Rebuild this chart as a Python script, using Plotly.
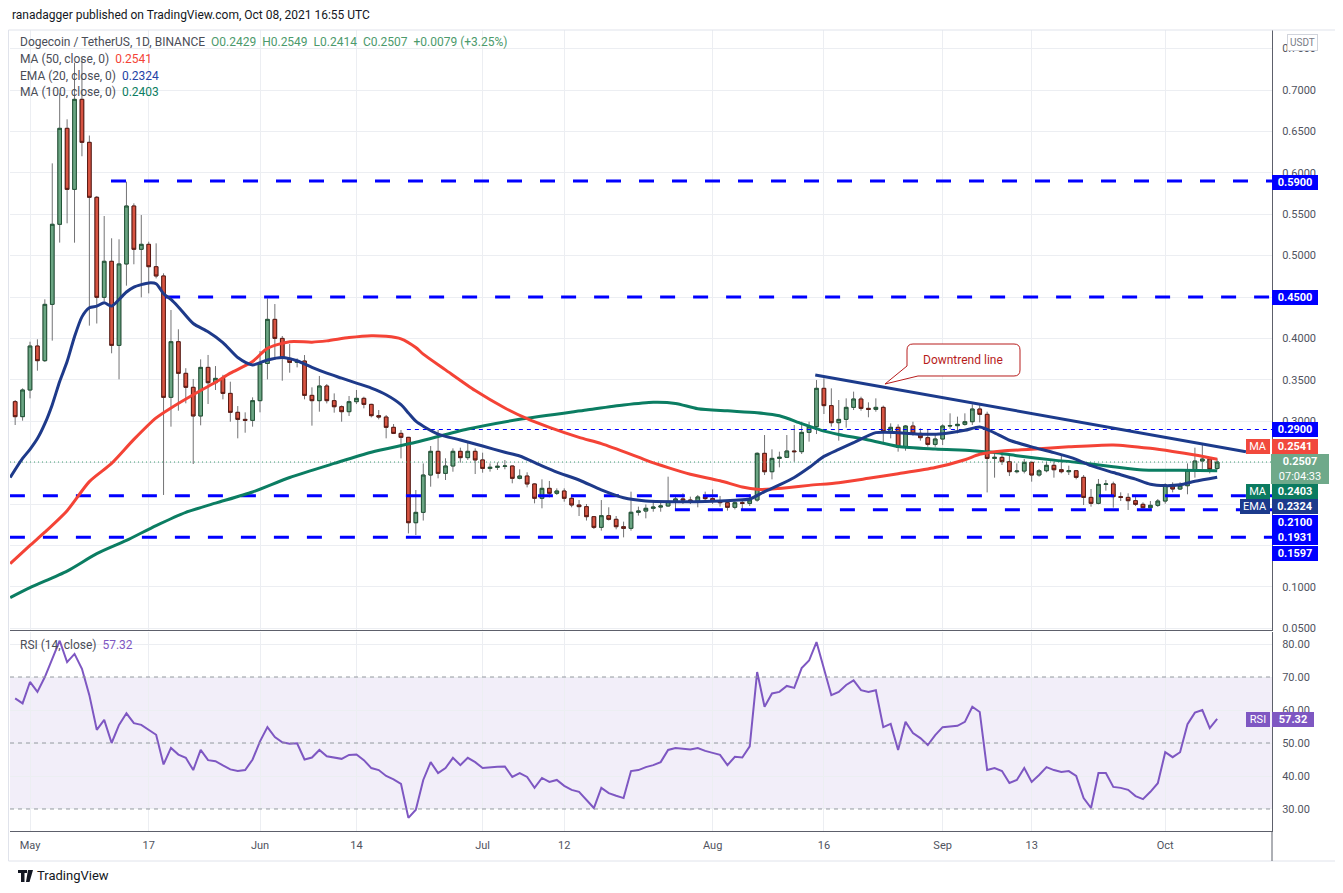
import pandas as pd
import plotly.graph_objects as go

# DOGE/USDT daily candles, 29 Apr - 8 Oct 2021
dates = pd.date_range("2021-04-29", "2021-10-08", freq="D")

opens = [
    0.3236, 0.3055,
    # May
    0.3377, 0.3908, 0.3731, 0.4411, 0.5378, 0.6537, 0.5800, 0.6887, 0.6368, 0.5704,
    0.4496, 0.4931, 0.3916, 0.4899, 0.5599, 0.5076, 0.5136, 0.4866, 0.4754, 0.3288,
    0.3960, 0.3578, 0.3409, 0.3063, 0.3650, 0.3465, 0.3517, 0.3336, 0.3107, 0.3022, 0.3010,
    # Jun
    0.3248, 0.3698, 0.4230, 0.4000, 0.3759, 0.3710, 0.3727, 0.3312, 0.3248, 0.3425,
    0.3248, 0.3175, 0.3115, 0.3236, 0.3276, 0.3203, 0.3067, 0.3050, 0.2926, 0.2853,
    0.2805, 0.1774, 0.1899, 0.2350, 0.2636, 0.2370, 0.2459, 0.2636, 0.2560, 0.2636,
    # Jul
    0.2532, 0.2430, 0.2443, 0.2455, 0.2459, 0.2310, 0.2338, 0.2242, 0.2069, 0.2189,
    0.2129, 0.2157, 0.2069, 0.1988, 0.1968, 0.1847, 0.1718, 0.1859, 0.1815, 0.1726,
    0.1706, 0.1900, 0.1915, 0.1948, 0.1963, 0.1976, 0.2032, 0.2061, 0.2048, 0.2036, 0.2085,
    # Aug
    0.2065, 0.2036, 0.2016, 0.1960, 0.2016, 0.2008, 0.2048, 0.2612, 0.2390, 0.2551,
    0.2564, 0.2640, 0.2632, 0.2865, 0.2934, 0.3397, 0.3188, 0.2982, 0.3022, 0.3167,
    0.3268, 0.3155, 0.3143, 0.3167, 0.2874, 0.2926, 0.2684, 0.2942, 0.2853, 0.2801, 0.2720,
    # Sep
    0.2785, 0.2942, 0.2946, 0.2962, 0.2994, 0.3147, 0.3083, 0.2551, 0.2563, 0.2511,
    0.2390, 0.2398, 0.2503, 0.2350, 0.2402, 0.2467, 0.2414, 0.2390, 0.2402, 0.2322,
    0.2080, 0.2008, 0.2237, 0.2242, 0.2089, 0.2080, 0.2040, 0.1996, 0.1955, 0.1984,
    # Oct
    0.2036, 0.2229, 0.2181, 0.2221, 0.2406, 0.2519, 0.2543, 0.2429,
]
highs = [
    0.3256, 0.3397,
    0.3960, 0.3989, 0.4472, 0.6114, 0.6960, 0.6646, 0.7330, 0.7376, 0.6450, 0.5720,
    0.5478, 0.5209, 0.5197, 0.5893, 0.5631, 0.5490, 0.5168, 0.5148, 0.4786, 0.4343,
    0.4110, 0.3640, 0.3510, 0.3747, 0.3800, 0.3666, 0.3560, 0.3477, 0.3183, 0.3107, 0.3288,
    0.3848, 0.4484, 0.4415, 0.4029, 0.3932, 0.3759, 0.3799, 0.3409, 0.3546, 0.3449,
    0.3336, 0.3190, 0.3304, 0.3377, 0.3296, 0.3210, 0.3135, 0.3075, 0.2966, 0.2894,
    0.2810, 0.2169, 0.2490, 0.2700, 0.2894, 0.2552, 0.2672, 0.2680, 0.2753, 0.2672,
    0.2620, 0.2491, 0.2503, 0.2531, 0.2463, 0.2419, 0.2383, 0.2250, 0.2298, 0.2278,
    0.2189, 0.2189, 0.2097, 0.2048, 0.2000, 0.1855, 0.2048, 0.1960, 0.1855, 0.1787,
    0.2149, 0.1968, 0.1996, 0.2040, 0.2016, 0.2330, 0.2100, 0.2129, 0.2089, 0.2109, 0.2149,
    0.2177, 0.2097, 0.2048, 0.2048, 0.2056, 0.2120, 0.2624, 0.2833, 0.2660, 0.2632,
    0.2833, 0.2954, 0.2994, 0.2994, 0.3497, 0.3518, 0.3397, 0.3256, 0.3276, 0.3357,
    0.3296, 0.3228, 0.3276, 0.3188, 0.2974, 0.2962, 0.2954, 0.2994, 0.2914, 0.2906, 0.2845,
    0.2962, 0.3095, 0.3055, 0.3095, 0.3204, 0.3204, 0.3115, 0.2640, 0.2624, 0.2600,
    0.2491, 0.2543, 0.2511, 0.2423, 0.2511, 0.2511, 0.2592, 0.2463, 0.2410, 0.2350,
    0.2181, 0.2302, 0.2290, 0.2270, 0.2141, 0.2129, 0.2097, 0.2020, 0.2036, 0.2060,
    0.2250, 0.2262, 0.2262, 0.2491, 0.2680, 0.2721, 0.2560, 0.2549,
]
lows = [
    0.2954, 0.3006,
    0.3276, 0.3610, 0.3715, 0.3973, 0.5157, 0.5390, 0.5156, 0.6200, 0.4154, 0.4180,
    0.4450, 0.3820, 0.3506, 0.4637, 0.4895, 0.4496, 0.4544, 0.4725, 0.2109, 0.2934,
    0.3127, 0.3216, 0.2483, 0.2950, 0.3208, 0.3377, 0.3264, 0.2994, 0.2793, 0.2861, 0.2934,
    0.3107, 0.3505, 0.3739, 0.3489, 0.3586, 0.3650, 0.3264, 0.2946, 0.3115, 0.3215,
    0.3103, 0.2994, 0.3063, 0.3207, 0.3155, 0.3046, 0.3022, 0.2793, 0.2845, 0.2551,
    0.1645, 0.1625, 0.1800, 0.2209, 0.2310, 0.2290, 0.2390, 0.2499, 0.2532, 0.2362,
    0.2378, 0.2391, 0.2411, 0.2419, 0.2250, 0.2298, 0.2201, 0.2008, 0.1948, 0.2080,
    0.2109, 0.2028, 0.1960, 0.1855, 0.1800, 0.1698, 0.1678, 0.1800, 0.1694, 0.1597,
    0.1678, 0.1860, 0.1827, 0.1907, 0.1907, 0.1968, 0.1935, 0.2000, 0.2000, 0.1960, 0.2016,
    0.2000, 0.1968, 0.1920, 0.1935, 0.1927, 0.1976, 0.2028, 0.2350, 0.2298, 0.2443,
    0.2559, 0.2511, 0.2604, 0.2753, 0.2845, 0.3087, 0.2934, 0.2765, 0.2922, 0.3135,
    0.3127, 0.3047, 0.3115, 0.2733, 0.2793, 0.2632, 0.2644, 0.2825, 0.2765, 0.2692, 0.2692,
    0.2712, 0.2906, 0.2853, 0.2946, 0.2954, 0.2986, 0.2140, 0.2318, 0.2471, 0.2338,
    0.2370, 0.2370, 0.2270, 0.2330, 0.2383, 0.2318, 0.2370, 0.2350, 0.2298, 0.1988,
    0.1968, 0.1996, 0.2161, 0.1956, 0.2036, 0.1928, 0.1976, 0.1948, 0.1948, 0.1964,
    0.2004, 0.2141, 0.2169, 0.2117, 0.2318, 0.2423, 0.2370, 0.2414,
]
closes = [
    0.3055, 0.3377,
    0.3908, 0.3731, 0.4411, 0.5378, 0.6537, 0.5800, 0.6887, 0.6368, 0.5704, 0.4496,
    0.4931, 0.3916, 0.4899, 0.5599, 0.5076, 0.5136, 0.4866, 0.4754, 0.3288, 0.3960,
    0.3578, 0.3409, 0.3063, 0.3650, 0.3465, 0.3517, 0.3336, 0.3107, 0.3022, 0.3010, 0.3248,
    0.3698, 0.4230, 0.4000, 0.3759, 0.3710, 0.3727, 0.3312, 0.3248, 0.3425, 0.3248,
    0.3175, 0.3115, 0.3236, 0.3276, 0.3203, 0.3067, 0.3050, 0.2926, 0.2853, 0.2805,
    0.1774, 0.1899, 0.2350, 0.2636, 0.2370, 0.2459, 0.2636, 0.2560, 0.2636, 0.2532,
    0.2430, 0.2443, 0.2455, 0.2459, 0.2310, 0.2338, 0.2242, 0.2069, 0.2189, 0.2129,
    0.2157, 0.2069, 0.1988, 0.1968, 0.1847, 0.1718, 0.1859, 0.1815, 0.1726, 0.1706,
    0.1900, 0.1915, 0.1948, 0.1963, 0.1976, 0.2032, 0.2061, 0.2048, 0.2036, 0.2085, 0.2065,
    0.2036, 0.2016, 0.1960, 0.2016, 0.2008, 0.2048, 0.2612, 0.2390, 0.2551, 0.2564,
    0.2640, 0.2632, 0.2865, 0.2934, 0.3397, 0.3188, 0.2982, 0.3022, 0.3167, 0.3268,
    0.3155, 0.3143, 0.3167, 0.2874, 0.2926, 0.2684, 0.2942, 0.2853, 0.2801, 0.2720, 0.2785,
    0.2942, 0.2946, 0.2962, 0.2994, 0.3147, 0.3083, 0.2551, 0.2563, 0.2511, 0.2390,
    0.2398, 0.2503, 0.2350, 0.2402, 0.2467, 0.2414, 0.2390, 0.2402, 0.2322, 0.2080,
    0.2008, 0.2237, 0.2242, 0.2089, 0.2080, 0.2040, 0.1996, 0.1955, 0.1984, 0.2036,
    0.2229, 0.2181, 0.2221, 0.2406, 0.2519, 0.2543, 0.2418, 0.2507,
]

rsi_vals = [
    63.5, 62.0,
    68.5, 65.5, 70.0, 75.5, 81.0, 74.5, 77.0, 72.5, 64.5, 54.0,
    57.0, 50.0, 55.5, 59.0, 56.0, 55.5, 54.0, 52.5, 43.5, 48.5,
    46.5, 45.5, 41.8, 47.9, 44.8, 44.5, 43.2, 42.0, 41.5, 41.8, 45.0,
    50.5, 54.8, 51.8, 50.2, 49.8, 49.9, 45.0, 45.6, 47.9, 46.0,
    45.5, 45.2, 46.4, 46.5, 44.8, 42.4, 41.8, 40.0, 39.0, 37.6,
    27.3, 29.8, 38.8, 44.2, 40.9, 42.4, 45.5, 43.3, 45.5, 44.2,
    42.4, 42.7, 42.8, 42.9, 39.7, 40.9, 39.7, 36.4, 39.4, 38.2,
    38.8, 37.0, 35.8, 35.2, 32.7, 30.3, 36.4, 34.8, 34.0, 33.3,
    41.5, 41.8, 42.7, 43.3, 44.2, 47.9, 48.5, 48.2, 48.0, 48.5, 47.6,
    47.0, 46.4, 43.3, 45.8, 45.6, 49.0, 71.5, 61.0, 65.0, 65.5,
    67.3, 66.7, 72.7, 75.0, 80.6, 72.7, 64.5, 65.5, 67.6, 69.0,
    66.0, 65.5, 66.0, 54.8, 55.8, 47.9, 56.4, 53.0, 51.5, 49.4, 52.4,
    54.8, 54.9, 55.2, 56.4, 61.0, 59.4, 41.8, 42.4, 41.5, 37.9,
    38.8, 42.4, 38.2, 40.3, 42.7, 41.8, 41.2, 41.5, 40.0, 33.3,
    30.3, 40.9, 40.9, 36.7, 36.4, 35.8, 33.9, 33.0, 35.2, 37.8,
    47.2, 45.7, 47.2, 55.7, 59.2, 60.0, 54.5, 57.32,
]

# moving averages, sampled off the chart
ema20_dates = [
    "2021-04-28 08:00", "2021-04-30", "2021-05-01", "2021-05-02", "2021-05-03", "2021-05-04",
    "2021-05-05", "2021-05-06", "2021-05-07", "2021-05-08", "2021-05-09", "2021-05-10",
    "2021-05-11", "2021-05-12", "2021-05-13", "2021-05-14", "2021-05-15", "2021-05-16",
    "2021-05-17", "2021-05-18", "2021-05-19", "2021-05-20", "2021-05-21", "2021-05-23",
    "2021-05-25", "2021-05-27", "2021-05-29", "2021-05-31", "2021-06-02", "2021-06-04",
    "2021-06-06", "2021-06-08", "2021-06-10", "2021-06-12", "2021-06-14", "2021-06-16",
    "2021-06-18", "2021-06-20", "2021-06-21", "2021-06-22", "2021-06-23", "2021-06-25",
    "2021-06-28", "2021-07-01", "2021-07-04", "2021-07-06", "2021-07-09", "2021-07-11",
    "2021-07-14", "2021-07-17", "2021-07-20", "2021-07-23", "2021-07-27", "2021-07-31",
    "2021-08-04", "2021-08-06", "2021-08-08", "2021-08-10", "2021-08-12", "2021-08-14",
    "2021-08-16", "2021-08-18", "2021-08-20", "2021-08-23", "2021-08-26", "2021-08-29",
    "2021-09-01", "2021-09-04", "2021-09-06", "2021-09-08", "2021-09-10", "2021-09-13",
    "2021-09-16", "2021-09-19", "2021-09-21", "2021-09-24", "2021-09-27", "2021-09-29",
    "2021-10-01", "2021-10-03", "2021-10-05", "2021-10-08",
]
ema20_vals = [
    0.232, 0.255, 0.266, 0.279, 0.297, 0.320,
    0.348, 0.372, 0.402, 0.426, 0.437, 0.439,
    0.443, 0.439, 0.447, 0.456, 0.462, 0.465,
    0.467, 0.466, 0.454, 0.447, 0.438, 0.418,
    0.408, 0.395, 0.377, 0.368, 0.374, 0.377,
    0.373, 0.365, 0.358, 0.352, 0.346, 0.340,
    0.332, 0.320, 0.310, 0.300, 0.294, 0.2845,
    0.2773, 0.270, 0.2625, 0.258, 0.246, 0.2385,
    0.229, 0.217, 0.2075, 0.2036, 0.2028, 0.2030,
    0.2045, 0.2060, 0.2150, 0.2230, 0.2320, 0.2440,
    0.2575, 0.2660, 0.2740, 0.2862, 0.2862, 0.2843,
    0.2848, 0.2890, 0.2930, 0.2860, 0.2770, 0.2690,
    0.2620, 0.2540, 0.2463, 0.2380, 0.2300, 0.2238,
    0.2222, 0.2232, 0.2275, 0.2324,
]

ma50_dates = [
    "2021-04-28 08:00", "2021-05-01", "2021-05-03", "2021-05-06", "2021-05-09", "2021-05-12",
    "2021-05-15", "2021-05-18", "2021-05-20", "2021-05-23", "2021-05-26", "2021-05-28",
    "2021-05-31", "2021-06-02", "2021-06-05", "2021-06-08", "2021-06-10", "2021-06-13",
    "2021-06-16", "2021-06-18", "2021-06-20", "2021-06-22", "2021-06-23", "2021-06-26",
    "2021-06-30", "2021-07-04", "2021-07-07", "2021-07-10", "2021-07-14", "2021-07-17",
    "2021-07-21", "2021-07-23", "2021-07-26", "2021-07-29", "2021-08-02", "2021-08-05",
    "2021-08-07", "2021-08-09", "2021-08-11", "2021-08-14", "2021-08-18", "2021-08-22",
    "2021-08-26", "2021-08-31", "2021-09-04", "2021-09-06", "2021-09-09", "2021-09-13",
    "2021-09-18", "2021-09-24", "2021-09-29", "2021-10-02", "2021-10-05", "2021-10-08",
]
ma50_vals = [
    0.128, 0.150, 0.166, 0.192, 0.227, 0.249,
    0.278, 0.304, 0.316, 0.332, 0.347, 0.358,
    0.372, 0.388, 0.396, 0.3955, 0.397, 0.401,
    0.4033, 0.4025, 0.3995, 0.389, 0.381, 0.362,
    0.337, 0.316, 0.303, 0.2925, 0.2805, 0.273,
    0.2600, 0.2530, 0.2440, 0.2360, 0.2280, 0.2205,
    0.2177, 0.2180, 0.2195, 0.2225, 0.2258, 0.2310,
    0.2365, 0.2440, 0.2535, 0.2600, 0.2640, 0.2660,
    0.2690, 0.2713, 0.2672, 0.2635, 0.2592, 0.2541,
]

ma100_dates = [
    "2021-04-28 08:00", "2021-05-01", "2021-05-06", "2021-05-10", "2021-05-14", "2021-05-18",
    "2021-05-22", "2021-05-26", "2021-05-31", "2021-06-05", "2021-06-11", "2021-06-16",
    "2021-06-22", "2021-06-29", "2021-07-06", "2021-07-15", "2021-07-20", "2021-07-24",
    "2021-07-27", "2021-07-30", "2021-08-03", "2021-08-07", "2021-08-10", "2021-08-13",
    "2021-08-16", "2021-08-18", "2021-08-22", "2021-08-26", "2021-08-31", "2021-09-05",
    "2021-09-08", "2021-09-11", "2021-09-16", "2021-09-19", "2021-09-24", "2021-09-28",
    "2021-10-03", "2021-10-08",
]
ma100_vals = [
    0.087, 0.099, 0.119, 0.140, 0.156, 0.174,
    0.190, 0.201, 0.2145, 0.232, 0.249, 0.2625,
    0.2745, 0.2905, 0.3023, 0.3135, 0.3195, 0.3228,
    0.3215, 0.3150, 0.3125, 0.3103, 0.3065, 0.2970,
    0.2880, 0.2840, 0.2773, 0.2695, 0.2664, 0.2644,
    0.2622, 0.2584, 0.2530, 0.2505, 0.2450, 0.2410,
    0.2408, 0.2403,
]

# horizontal levels and the drawn downtrend line
level_vals = [0.59, 0.45, 0.29, 0.21, 0.1931, 0.1597]
level_starts = ["2021-05-11 22:00", "2021-05-19 05:00", "2021-06-20 19:00",
                "2021-04-28 07:00", "2021-07-26 22:00", "2021-04-28 07:00"]
trend_x = ["2021-08-14 20:00", "2021-10-11 21:00"]
trend_y = [0.3558, 0.2632]

tick_dates = ["2021-05-01", "2021-05-17", "2021-06-01", "2021-06-14", "2021-07-01", "2021-07-12",
              "2021-08-01", "2021-08-16", "2021-09-01", "2021-09-13", "2021-10-01"]
tick_text = ["May", "17", "Jun", "14", "Jul", "12", "Aug", "16", "Sep", "13", "Oct"]

price_ticks = [round(0.05 * i, 2) for i in range(1, 16)]
# labels the price scale hides behind its tags
hidden_ticks = [0.15, 0.2, 0.25, 0.45]

X0, X1 = "2021-04-28 07:19", "2021-10-15 09:22"

# page pixel helpers (plot area spans x 10..1272, y 30..831 of the page;
# the page body adds an 8px margin around the figure)
L, R, T, B = 10, 1272, 30, 831
PAGE = 8
FIG_W, FIG_H = 1343 - PAGE, 893 - PAGE


def px(x):
    return (x - L) / (R - L)


def py(y):
    return (B - y) / (B - T)


UP, DOWN = "#6ba583", "#d75442"
UP_EDGE, DOWN_EDGE = "#225437", "#5b1a13"
WICK = "#737375"
RED, BLUE, GREEN = "#f44336", "#1e3a8a", "#0b7d62"
PURPLE = "#7e57c2"
GRID = "#eceef2"
AXIS = "#5d606b"
FONT = "Roboto"

fig = go.Figure()

# levels
for v, s in zip(level_vals, level_starts):
    thin = v == 0.29
    fig.add_trace(go.Scatter(
        x=[s, X1], y=[v, v], mode="lines",
        line=dict(color="#0000ff", width=1.2 if thin else 3,
                  dash="4px,4px" if thin else "15px,18px"),
        hoverinfo="skip", showlegend=False))

# last price dotted line
fig.add_trace(go.Scatter(
    x=[X0, X1], y=[closes[-1], closes[-1]], mode="lines",
    line=dict(color="#3f9b6e", width=1, dash="1px,3px"),
    hoverinfo="skip", showlegend=False))

# wicks then bodies
fig.add_trace(go.Candlestick(
    x=dates, open=opens, high=highs, low=lows, close=closes,
    increasing=dict(line=dict(color=WICK, width=1), fillcolor=WICK),
    decreasing=dict(line=dict(color=WICK, width=1), fillcolor=WICK),
    whiskerwidth=0, hoverinfo="skip", showlegend=False))
body_hi = [max(o, c) for o, c in zip(opens, closes)]
body_lo = [min(o, c) for o, c in zip(opens, closes)]
fig.add_trace(go.Candlestick(
    x=dates, open=opens, high=body_hi, low=body_lo, close=closes,
    increasing=dict(line=dict(color=UP_EDGE, width=1), fillcolor=UP),
    decreasing=dict(line=dict(color=DOWN_EDGE, width=1), fillcolor=DOWN),
    whiskerwidth=0, hoverinfo="skip", showlegend=False))

for xs, ys, col in [(ma100_dates, ma100_vals, GREEN),
                    (ma50_dates, ma50_vals, RED),
                    (ema20_dates, ema20_vals, BLUE)]:
    fig.add_trace(go.Scatter(
        x=xs, y=ys, mode="lines", line=dict(color=col, width=3, shape="spline", smoothing=0.7),
        hoverinfo="skip", showlegend=False))

fig.add_trace(go.Scatter(
    x=trend_x, y=trend_y, mode="lines", line=dict(color="#1c3b8c", width=3),
    hoverinfo="skip", showlegend=False))

# RSI pane
fig.add_trace(go.Scatter(
    x=dates, y=rsi_vals, mode="lines", line=dict(color=PURPLE, width=2),
    xaxis="x2", yaxis="y2", hoverinfo="skip", showlegend=False))

shapes = [
    dict(type="rect", xref="paper", yref="y2", x0=0, x1=1, y0=30, y1=70,
         fillcolor="rgba(126,87,194,0.1)", line=dict(width=0), layer="below"),
]
for lv in [70, 50, 30]:
    shapes.append(dict(type="line", xref="paper", yref="y2", x0=0, x1=1, y0=lv, y1=lv,
                       line=dict(color="#9598a1", width=1, dash="4px,4px")))

# outer frame and axis stub under the time scale
shapes.append(dict(type="rect", xref="paper", yref="paper",
                   x0=px(8.5), x1=px(1336.5), y0=py(861), y1=py(30),
                   line=dict(color="#e0e3eb", width=1)))
shapes.append(dict(type="line", xref="paper", yref="paper",
                   x0=px(1272), x1=px(1272), y0=py(831), y1=py(861),
                   line=dict(color=AXIS, width=1)))

# downtrend callout
pts = [("M", 913, 344), ("L", 1014, 344), ("Q", 1020, 344, 1020, 350), ("L", 1020, 370),
       ("Q", 1020, 376, 1014, 376), ("L", 918, 376), ("L", 885, 384), ("L", 907, 366),
       ("L", 907, 350), ("Q", 907, 344, 913, 344)]
path = ""
for p in pts:
    cmd, coords = p[0], p[1:]
    xy = []
    for i in range(0, len(coords), 2):
        xy.append(f"{px(coords[i]):.5f},{py(coords[i + 1]):.5f}")
    path += cmd + " ".join(xy) + " "
shapes.append(dict(type="path", xref="paper", yref="paper", path=path + "Z",
                   fillcolor="white", line=dict(color="#b71c1c", width=1)))

# small TradingView logo glyph
shapes.append(dict(type="path", xref="paper", yref="paper",
                   path=f"M{px(18)},{py(870)} L{px(27)},{py(870)} L{px(27)},{py(873)} L{px(24.5)},{py(873)} "
                        f"L{px(24.5)},{py(882)} L{px(21)},{py(882)} L{px(21)},{py(873)} L{px(18)},{py(873)} Z",
                   fillcolor="#131722", line=dict(width=0)))
shapes.append(dict(type="path", xref="paper", yref="paper",
                   path=f"M{px(28)},{py(870)} L{px(33)},{py(870)} L{px(29.5)},{py(882)} L{px(26)},{py(882)} Z",
                   fillcolor="#131722", line=dict(width=0)))

ann = []


def note(text, x, y, size=12, color="#131722", xanchor="left", **kw):
    ann.append(dict(text=text, x=px(x), y=py(y), xref="paper", yref="paper",
                    xanchor=xanchor, yanchor="middle", showarrow=False,
                    font=dict(family=FONT, size=size, color=color), **kw))


def tag(text, y, bg, x=1272, width=42, height=11, xanchor="left", bold=True):
    t = f"<b>{text}</b>" if bold else text
    ann.append(dict(text=t, x=px(x), y=py(y), xref="paper", yref="paper",
                    xanchor=xanchor, yanchor="middle", showarrow=False,
                    width=width, height=height, align="center", valign="middle",
                    bgcolor=bg, borderpad=2, borderwidth=0,
                    font=dict(family=FONT, size=11, color="white")))


note("ranadagger published on TradingView.com, Oct 08, 2021 16:55 UTC", 10, 15, size=12)

val = "#4c9a6c"
head = (f"Dogecoin / TetherUS, 1D, BINANCE&nbsp;&nbsp;"
        f"<span style='color:{val}'>O{opens[-1]:.4f}</span>&nbsp;&nbsp;"
        f"<span style='color:{val}'>H{highs[-1]:.4f}</span>&nbsp;&nbsp;"
        f"<span style='color:{val}'>L{lows[-1]:.4f}</span>&nbsp;&nbsp;"
        f"<span style='color:{val}'>C{closes[-1]:.4f}</span>&nbsp;&nbsp;"
        f"<span style='color:{val}'>+0.0079 (+3.25%)</span>")
note(head, 18, 42, color="#4a4d57")
note(f"MA (50, close, 0)&nbsp;&nbsp;<span style='color:{RED}'>{ma50_vals[-1]:.4f}</span>", 18, 59, color="#4a4d57")
note(f"EMA (20, close, 0)&nbsp;&nbsp;<span style='color:#2443a6'>{ema20_vals[-1]:.4f}</span>", 18, 76, color="#4a4d57")
note(f"MA (100, close, 0)&nbsp;&nbsp;<span style='color:{GREEN}'>{ma100_vals[-1]:.4f}</span>", 18, 92, color="#4a4d57")
note(f"RSI (14, close)&nbsp;&nbsp;<span style='color:{PURPLE}'>{rsi_vals[-1]:.2f}</span>", 18, 645, color="#4a4d57")

note("Downtrend line", 963.5, 360, size=12, color="#b71c1c", xanchor="center")
note("TradingView", 35, 876, size=13, color="#131722")

ann.append(dict(text="USDT", x=px(1302), y=py(42), xref="paper", yref="paper",
                xanchor="center", yanchor="middle", showarrow=False,
                bgcolor="white", bordercolor="#d1d4dc", borderwidth=1, borderpad=2,
                font=dict(family=FONT, size=10, color="#787b86")))

# price-scale tags
tag(f"{level_vals[0]:.4f}", 182, "#0000ff")
tag(f"{level_vals[1]:.4f}", 297, "#0000ff")
tag(f"{level_vals[2]:.4f}", 429.5, "#0000ff")
tag(f"{ma50_vals[-1]:.4f}", 446.5, "#f1493d")
tag("MA", 446.5, "#f1493d", x=1270, width=20, xanchor="right", bold=False)
tag(f"<b>{closes[-1]:.4f}</b><br>07:04:33", 469, "#6fa98a", x=1271, width=54, height=26, bold=False)
tag(f"{ma100_vals[-1]:.4f}", 491, "#0b7b60")
tag("MA", 491, "#0b7b60", x=1270, width=20, xanchor="right", bold=False)
tag(f"{ema20_vals[-1]:.4f}", 506, "#1c3a8c")
tag("EMA", 506, "#1c3a8c", x=1270, width=26, xanchor="right", bold=False)
tag(f"{level_vals[3]:.4f}", 522, "#0000ff")
tag(f"{level_vals[4]:.4f}", 537.5, "#0000ff")
tag(f"{level_vals[5]:.4f}", 553.5, "#0000ff")
tag(f"{rsi_vals[-1]:.2f}", 719.5, PURPLE, width=38)
tag("RSI", 719.5, PURPLE, x=1270, width=20, xanchor="right", bold=False)

price_text = ["" if v in hidden_ticks else f"{v:.4f}" for v in price_ticks]

fig.update_layout(
    width=FIG_W, height=FIG_H,
    margin=dict(l=L - PAGE, r=FIG_W - (R - PAGE), t=T - PAGE, b=FIG_H - (B - PAGE)),
    paper_bgcolor="white", plot_bgcolor="white",
    template="none", hovermode=False, showlegend=False,
    font=dict(family=FONT, size=11, color="#50535e"),
    boxgap=0.3,
    xaxis=dict(domain=[0, 1], anchor="y", type="date", range=[X0, X1],
               tickvals=tick_dates, showticklabels=False, showgrid=True, gridcolor=GRID,
               zeroline=False, showline=True, linecolor=AXIS, linewidth=1, ticks="",
               rangeslider=dict(visible=False)),
    yaxis=dict(domain=[py(630), 1], anchor="x", side="right", range=[0.04783, 0.77246],
               tickvals=price_ticks, ticktext=price_text,
               showgrid=True, gridcolor=GRID, zeroline=False, showline=True,
               linecolor=AXIS, linewidth=1, ticks="", ticklabelstandoff=7,
               tickfont=dict(size=11, color="#50535e")),
    xaxis2=dict(domain=[0, 1], anchor="y2", type="date", matches="x", range=[X0, X1],
                tickvals=tick_dates, ticktext=tick_text, showgrid=True, gridcolor=GRID,
                zeroline=False, showline=True, linecolor=AXIS, linewidth=1, ticks="",
                ticklabelstandoff=4, tickfont=dict(size=11, color="#50535e")),
    yaxis2=dict(domain=[0, py(632)], anchor="x2", side="right", range=[23.33, 83.64],
                tickvals=[30, 40, 50, 60, 70, 80], tickformat=".2f",
                showgrid=True, gridcolor=GRID, zeroline=False, showline=True,
                linecolor=AXIS, linewidth=1, ticks="", ticklabelstandoff=7,
                tickfont=dict(size=11, color="#50535e")),
    shapes=shapes,
    annotations=ann,
)

fig.write_html("out.html")
